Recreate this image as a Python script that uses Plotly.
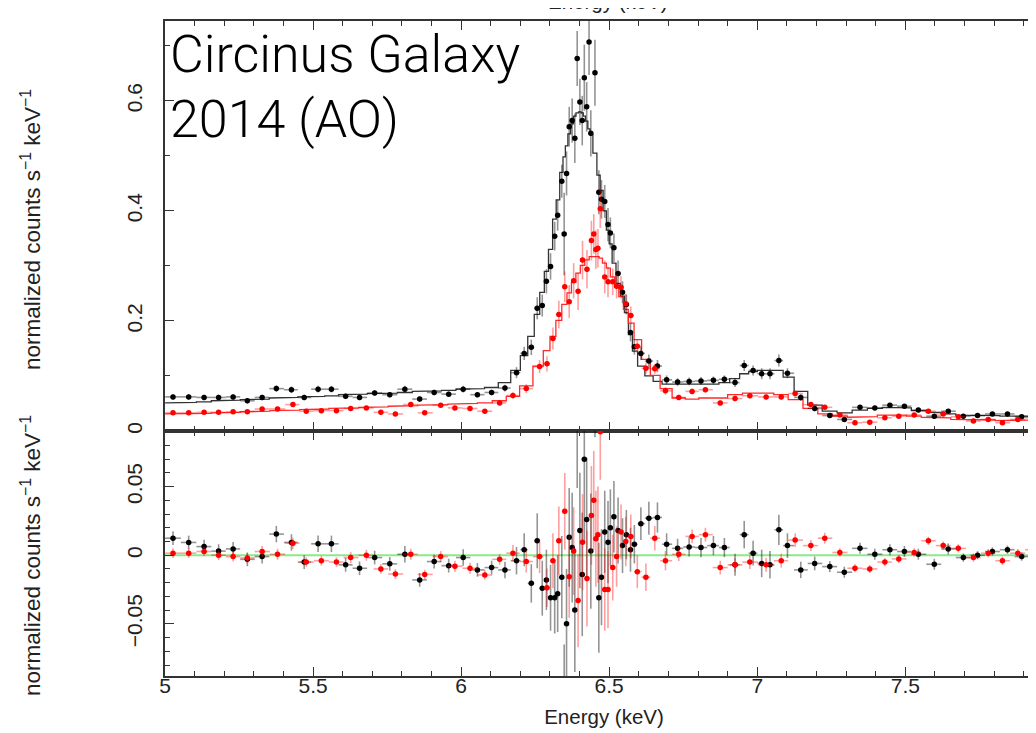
import numpy as np
import plotly.graph_objects as go
from plotly.subplots import make_subplots

# ---------------- data ----------------
# Dataset 1 (black)
energy_black = [5.027, 5.080, 5.132, 5.181, 5.230, 5.278, 5.328, 5.376, 5.427, 5.470, 5.517, 5.562,
                5.610, 5.657, 5.708, 5.759, 5.810, 5.860, 5.909, 5.958, 6.007, 6.055, 6.103, 6.148,
                6.187, 6.213, 6.237, 6.257, 6.274, 6.288, 6.302, 6.316, 6.326, 6.340, 6.348, 6.356,
                6.365, 6.375, 6.384, 6.392, 6.401, 6.409, 6.416, 6.424, 6.432, 6.438, 6.452, 6.465,
                6.474, 6.485, 6.496, 6.504, 6.516, 6.530, 6.545, 6.558, 6.572, 6.585, 6.607, 6.634,
                6.663, 6.694,
                6.731, 6.770, 6.810, 6.852, 6.889, 6.925, 6.956, 6.986, 7.015, 7.043, 7.073, 7.102,
                7.147, 7.194, 7.245, 7.294, 7.347, 7.397, 7.448, 7.497, 7.544, 7.598, 7.645, 7.696,
                7.744, 7.794, 7.845, 7.893, 7.943]
counts_black = [0.062, 0.062, 0.061, 0.061, 0.062, 0.055, 0.061, 0.077, 0.075, 0.061, 0.076, 0.076,
                0.063, 0.061, 0.069, 0.066, 0.076, 0.058, 0.070, 0.067, 0.076, 0.066, 0.070, 0.078,
                0.106, 0.141, 0.152, 0.223, 0.228, 0.272, 0.299, 0.354, 0.392, 0.454, 0.358, 0.468,
                0.553, 0.564, 0.532, 0.677, 0.598, 0.564, 0.642, 0.589, 0.707, 0.541, 0.651, 0.434,
                0.421, 0.417, 0.375, 0.360, 0.333, 0.286, 0.252, 0.230, 0.179, 0.153, 0.141, 0.127,
                0.118, 0.093,
                0.089, 0.090, 0.091, 0.092, 0.094, 0.088, 0.119, 0.110, 0.104, 0.104, 0.128, 0.105,
                0.061, 0.041, 0.028, 0.021, 0.043, 0.042, 0.047, 0.045, 0.038, 0.027, 0.036, 0.027,
                0.028, 0.031, 0.031, 0.026, 0.025]
error_black = [0.005, 0.005, 0.005, 0.005, 0.005, 0.005, 0.005, 0.006, 0.006, 0.005, 0.006, 0.006,
               0.005, 0.005, 0.005, 0.005, 0.006, 0.005, 0.005, 0.005, 0.006, 0.005, 0.005, 0.006,
               0.010, 0.012, 0.014, 0.020, 0.020, 0.022, 0.024, 0.026, 0.028, 0.030, 0.075, 0.040,
               0.036, 0.040, 0.045, 0.050, 0.042, 0.045, 0.060, 0.045, 0.060, 0.042, 0.060, 0.040,
               0.035, 0.030, 0.030, 0.028, 0.026, 0.024, 0.020, 0.018, 0.016, 0.014, 0.012, 0.012,
               0.011, 0.008,
               0.007, 0.007, 0.007, 0.007, 0.007, 0.008, 0.010, 0.009, 0.010, 0.010, 0.011, 0.009,
               0.006, 0.005, 0.004, 0.004, 0.004, 0.004, 0.004, 0.004, 0.004, 0.004, 0.004, 0.003,
               0.003, 0.003, 0.003, 0.003, 0.003]
model_black = [0.051, 0.052, 0.053, 0.055, 0.056, 0.057, 0.058, 0.060, 0.061, 0.062, 0.063, 0.064,
               0.066, 0.067, 0.068, 0.069, 0.070, 0.072, 0.073, 0.074, 0.076, 0.077, 0.079, 0.088,
               0.110, 0.137, 0.172, 0.212, 0.252, 0.290, 0.330, 0.385, 0.420, 0.470, 0.498, 0.518,
               0.540, 0.558, 0.572, 0.578, 0.580, 0.578, 0.572, 0.563, 0.549, 0.538, 0.505, 0.465,
               0.437, 0.400, 0.365, 0.340, 0.305, 0.268, 0.245, 0.215, 0.175, 0.145, 0.118, 0.100,
               0.090, 0.085,
               0.084, 0.084, 0.085, 0.085, 0.088, 0.095, 0.104, 0.108, 0.110, 0.111, 0.110, 0.098,
               0.072, 0.047, 0.036, 0.033, 0.038, 0.041, 0.043, 0.042, 0.037, 0.034, 0.031, 0.029,
               0.028, 0.028, 0.027, 0.027, 0.027]
resid_black = [0.0124, 0.0093, 0.0063, 0.003, 0.0046, -0.003, -0.001, 0.0154, 0.0093, -0.005, 0.0083, 0.0083,
               -0.007, -0.0095, -0.0017, -0.0063, 0.0007, -0.018, -0.0046, -0.0076, -0.0017, -0.0107, -0.009, -0.0107,
               -0.004, 0.004, -0.0205, 0.0105, -0.024, -0.018, -0.031, -0.031, -0.028, -0.016, -0.14, -0.050,
               0.013, 0.0056, -0.040, 0.099, 0.018, -0.014, 0.070, 0.026, 0.158, 0.003, 0.146, -0.031,
               -0.016, 0.017, 0.0095, 0.020, 0.028, 0.018, 0.007, 0.015, 0.004, 0.008, 0.023, 0.027,
               0.0275, 0.008,
               0.005, 0.006, 0.0056, 0.007, 0.0056, -0.007, 0.015, 0.0015, -0.006, -0.007, 0.0185, 0.007,
               -0.0107, -0.006, -0.0083, -0.0124, 0.005, 0.0007, 0.004, 0.0027, 0.0007, -0.0066, 0.0046, -0.0017,
               0.0, 0.0027, 0.004, -0.001, -0.0017]

# Dataset 2 (red)
energy_red = [5.027, 5.080, 5.132, 5.181, 5.230, 5.278, 5.328, 5.380, 5.432, 5.477, 5.528, 5.579,
              5.627, 5.680, 5.729, 5.778, 5.830, 5.877, 5.931, 5.979, 6.030, 6.080, 6.130,
              6.175, 6.220, 6.265, 6.290, 6.310, 6.330, 6.350, 6.365, 6.380, 6.395, 6.410, 6.425,
              6.440, 6.448, 6.455, 6.462, 6.470, 6.485, 6.496, 6.512, 6.525, 6.540, 6.556, 6.573,
              6.595, 6.624, 6.654, 6.690, 6.735,
              6.780, 6.825, 6.875, 6.925, 6.975, 7.030, 7.081, 7.128, 7.181, 7.228, 7.279, 7.330,
              7.380, 7.431, 7.478, 7.530, 7.578, 7.628, 7.679, 7.730, 7.780, 7.828, 7.880, 7.929]
counts_red = [0.033, 0.033, 0.034, 0.034, 0.035, 0.035, 0.040, 0.040, 0.048, 0.036, 0.037, 0.037,
              0.041, 0.042, 0.034, 0.031, 0.048, 0.033, 0.047, 0.042, 0.041, 0.036, 0.051,
              0.0645, 0.077, 0.117, 0.122, 0.168, 0.2115, 0.262, 0.235, 0.273, 0.254, 0.3105, 0.294,
              0.346, 0.358, 0.330, 0.332, 0.404, 0.280, 0.271, 0.271, 0.263, 0.261, 0.231, 0.210,
              0.154, 0.114, 0.113, 0.073, 0.061,
              0.072, 0.075, 0.051, 0.059, 0.064, 0.062, 0.062, 0.068, 0.048, 0.043, 0.029, 0.015,
              0.016, 0.024, 0.027, 0.029, 0.036, 0.031, 0.026, 0.018, 0.021, 0.015, 0.021, 0.024]
error_red = [0.0035, 0.0035, 0.0035, 0.0035, 0.0035, 0.0035, 0.004, 0.004, 0.004, 0.0035, 0.0035, 0.0035,
             0.004, 0.004, 0.0035, 0.0035, 0.004, 0.0035, 0.004, 0.004, 0.004, 0.0035, 0.004,
             0.006, 0.008, 0.012, 0.014, 0.020, 0.025, 0.028, 0.030, 0.032, 0.034, 0.035, 0.035,
             0.036, 0.036, 0.035, 0.035, 0.035, 0.030, 0.028, 0.024, 0.022, 0.020, 0.018, 0.016,
             0.012, 0.010, 0.009, 0.007, 0.005,
             0.005, 0.005, 0.005, 0.005, 0.005, 0.005, 0.005, 0.005, 0.004, 0.004, 0.003, 0.003,
             0.003, 0.003, 0.003, 0.003, 0.003, 0.003, 0.003, 0.003, 0.003, 0.003, 0.003, 0.003]
model_red = [0.031, 0.032, 0.032, 0.033, 0.034, 0.035, 0.036, 0.037, 0.038, 0.039, 0.040, 0.041,
             0.042, 0.043, 0.044, 0.045, 0.046, 0.047, 0.048, 0.049, 0.050, 0.051, 0.055,
             0.063, 0.082, 0.118, 0.146, 0.172, 0.201, 0.230, 0.251, 0.270, 0.287, 0.301, 0.311,
             0.317, 0.318, 0.318, 0.317, 0.314, 0.305, 0.296, 0.280, 0.264, 0.244, 0.221, 0.196,
             0.166, 0.130, 0.101, 0.077, 0.060,
             0.058, 0.060, 0.060, 0.066, 0.069, 0.069, 0.066, 0.057, 0.041, 0.031, 0.027, 0.025,
             0.026, 0.029, 0.029, 0.027, 0.025, 0.024, 0.021, 0.020, 0.020, 0.019, 0.019, 0.020]
resid_red = [0.0015, 0.0015, 0.0027, 0.0, -0.001, -0.002, 0.0027, 0.0007, 0.0088, -0.005, -0.004, -0.005,
             -0.0017, 0.0, -0.010, -0.0137, 0.0007, -0.014, -0.001, -0.008, -0.0095, -0.0144, -0.003,
             0.0015, -0.0046, -0.001, -0.0237, -0.004, 0.0105, 0.032, -0.0156, 0.003, -0.033, 0.0095, -0.017,
             0.029, 0.040, 0.012, 0.015, 0.090, -0.025, -0.025, -0.009, -0.001, 0.017, 0.010, 0.0137,
             -0.012, -0.016, 0.0124, -0.004, 0.0007,
             0.0137, 0.015, -0.009, -0.007, -0.005, -0.007, -0.004, 0.011, 0.007, 0.0124, 0.002, -0.0095,
             -0.010, -0.005, -0.0027, 0.002, 0.0105, 0.007, 0.005, -0.0017, 0.0015, -0.004, 0.0015, 0.004]

x_range = [5.0, 7.965]
top_range = [0.0, 0.745]
bottom_range = [-0.088, 0.0905]
x_tick_values = [5, 5.5, 6, 6.5, 7, 7.5]
x_tick_labels = ["5", "5.5", "6", "6.5", "7", "7.5"]
title_lines = ["Circinus Galaxy", "2014 (AO)"]
x_title = "Energy (keV)"
y_title = "normalized counts s<sup>\u22121</sup> keV<sup>\u22121</sup>"

# ---------------- helpers ----------------
def bin_edges(centers):
    c = np.asarray(centers, dtype=float)
    mids = (c[:-1] + c[1:]) / 2
    return np.concatenate(([c[0] - (mids[0] - c[0])], mids, [c[-1] + (c[-1] - mids[-1])]))

def step_xy(centers, values):
    e = bin_edges(centers)
    xs, ys = [], []
    for i, v in enumerate(values):
        xs += [e[i], e[i + 1]]
        ys += [v, v]
    return xs, ys

FONT = "Liberation Sans, Arial, Helvetica, sans-serif"
AX = "#333333"
TXT = "#222222"

fig = make_subplots(rows=2, cols=1, shared_xaxes=True, vertical_spacing=0,
                    row_heights=[410 / 655, 245 / 655])

datasets = [
    (energy_black, counts_black, error_black, model_black, resid_black,
     "#000000", "rgba(0,0,0,0.42)", "#333333"),
    (energy_red, counts_red, error_red, model_red, resid_red,
     "#ff0000", "rgba(255,0,0,0.38)", "#ff2a2a"),
]

# model step lines
for e, c, err, m, r, mcol, ecol, lcol in datasets:
    xs, ys = step_xy(e, m)
    fig.add_trace(go.Scatter(x=xs, y=ys, mode="lines", line=dict(color=lcol, width=1.3),
                             hoverinfo="skip"), row=1, col=1)

# data points with error bars (top) and residuals (bottom)
for e, c, err, m, r, mcol, ecol, lcol in datasets:
    ed = bin_edges(e)
    ea = np.asarray(e)
    xp = ed[1:] - ea
    xm = ea - ed[:-1]
    common = dict(mode="markers", marker=dict(color=mcol, size=5.5, symbol="circle"),
                  error_x=dict(type="data", array=xp, arrayminus=xm, color=ecol, thickness=1.6, width=0),
                  error_y=dict(type="data", array=err, color=ecol, thickness=1.6, width=0))
    fig.add_trace(go.Scatter(x=e, y=c, **common), row=1, col=1)
    fig.add_trace(go.Scatter(x=e, y=r, **common), row=2, col=1)

# zero line in residual panel
fig.add_hline(y=0, line=dict(color="#8de88d", width=2), row=2, col=1, layer="below")

xcommon = dict(range=x_range, showline=True, linecolor=AX, linewidth=1.5, mirror="ticks",
               ticks="inside", ticklen=9, tickwidth=1.2, tickcolor=AX,
               tickmode="array", tickvals=x_tick_values, ticktext=x_tick_labels,
               minor=dict(tickmode="linear", tick0=5, dtick=0.1, ticks="inside", ticklen=5,
                          tickwidth=1.0, tickcolor=AX),
               showgrid=False, zeroline=False)
fig.update_xaxes(**xcommon)
fig.update_xaxes(showticklabels=False, row=1, col=1)
fig.update_xaxes(showticklabels=True, tickfont=dict(family=FONT, size=21, color=TXT),
                 ticklabelstandoff=-10,
                 title=dict(text=x_title, font=dict(family=FONT, size=20.5, color=TXT), standoff=14),
                 row=2, col=1)

ycommon = dict(showline=True, linecolor=AX, linewidth=1.5, mirror="ticks", ticks="inside",
               ticklen=9, tickwidth=1.2, tickcolor=AX, showgrid=False, zeroline=False,
               tickangle=-90, ticklabelstandoff=13,
               tickfont=dict(family=FONT, size=21, color=TXT))
fig.update_yaxes(**ycommon)
fig.update_yaxes(range=top_range, tickmode="linear", tick0=0, dtick=0.2,
                 minor=dict(tickmode="linear", tick0=0, dtick=0.1, ticks="inside", ticklen=5,
                            tickwidth=1.0, tickcolor=AX),
                 row=1, col=1)
fig.update_yaxes(range=bottom_range, tickmode="linear", tick0=0, dtick=0.05,
                 minor=dict(tickmode="linear", tick0=0, dtick=0.01, ticks="inside", ticklen=5,
                            tickwidth=1.0, tickcolor=AX),
                 row=2, col=1)

W, H = 1036, 733
L, R, T, B = 157, 1, 13, 65
pw, ph = W - L - R, H - T - B

def px(x):
    return (x - L) / pw

def py(y):
    return (H - B - y) / ph

title_font = dict(family="Roboto, Liberation Sans, sans-serif", size=52, color="#000", weight=300)
annotations = [
    dict(text=title_lines[0], x=px(160), y=py(14), xref="paper", yref="paper",
         xanchor="left", yanchor="top", align="left", showarrow=False, font=title_font),
    dict(text=title_lines[1], x=px(160), y=py(79), xref="paper", yref="paper",
         xanchor="left", yanchor="top", align="left", showarrow=False, font=title_font),
    dict(text=y_title, x=px(23), y=py(222), xref="paper", yref="paper", textangle=-90,
         xanchor="center", yanchor="middle", showarrow=False,
         font=dict(family=FONT, size=22.5, color=TXT)),
    dict(text=y_title, x=px(23), y=py(548), xref="paper", yref="paper", textangle=-90,
         xanchor="center", yanchor="middle", showarrow=False,
         font=dict(family=FONT, size=22.5, color=TXT)),
    dict(text=x_title, x=px(600), y=py(7), xref="paper", yref="paper",
         xanchor="center", yanchor="bottom", showarrow=False,
         font=dict(family=FONT, size=20.5, color=TXT)),
]

fig.update_layout(width=W, height=H, margin=dict(l=L, r=R, t=T, b=B, autoexpand=False),
                  plot_bgcolor="white", paper_bgcolor="white", showlegend=False,
                  annotations=annotations, font=dict(family=FONT))

fig.write_html("out.html")
